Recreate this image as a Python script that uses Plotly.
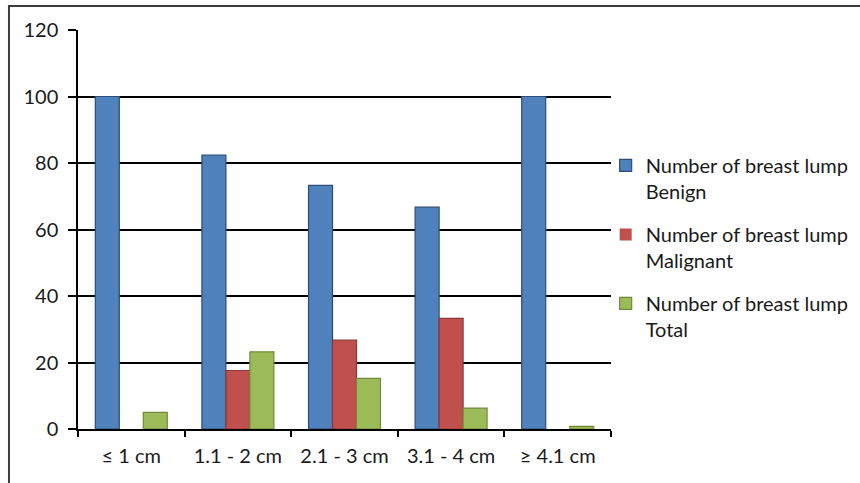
import plotly.graph_objects as go

# Lump size categories
sizes = ["≤ 1 cm", "1.1 - 2 cm", "2.1 - 3 cm", "3.1 - 4 cm", "≥ 4.1 cm"]

# Percentages per size group
benign = [100, 82.4, 73.3, 66.7, 100]
malignant = [0, 17.6, 26.7, 33.3, 0]
total = [5.0, 23.2, 15.2, 6.3, 0.8]

series_names = [
    "Number of breast lump<br>Benign",
    "Number of breast lump<br>Malignant",
    "Number of breast lump<br>Total",
]
fill_colors = ["#4F81BD", "#C0504D", "#9BBB59"]
edge_colors = ["#2C4D75", "#8C3836", "#71893F"]

fig = go.Figure()
for name, vals, fc, ec, grp in zip(series_names, [benign, malignant, total],
                                   fill_colors, edge_colors, ["b", "m", "t"]):
    # no outline on empty bars so nothing shows at the baseline
    widths = [1.2 if v > 0 else 0 for v in vals]
    fig.add_trace(go.Bar(
        x=sizes, y=vals, name=name, legendgroup=grp,
        marker=dict(color=fc, line=dict(color=ec, width=widths)),
    ))

font_family = "Lato, Open Sans, sans-serif"

fig.update_layout(
    width=860, height=483,
    margin=dict(l=78, r=249, t=30, b=54, autoexpand=False),
    paper_bgcolor="white", plot_bgcolor="white",
    barmode="group", bargap=0.325, bargroupgap=0,
    font=dict(family=font_family, size=20, color="#1a1a1a"),
    showlegend=True,
    legend=dict(
        x=0.99, xanchor="left", y=0.455, yanchor="middle",
        valign="top", tracegroupgap=14,
        font=dict(family=font_family, size=20, color="#1a1a1a"),
        itemwidth=30, bgcolor="rgba(0,0,0,0)",
    ),
    xaxis=dict(
        showgrid=False, showline=True, linecolor="#000000", linewidth=1.5,
        ticks="outside", ticklen=6, tickcolor="#000000", tickwidth=1.5,
        tickson="boundaries", fixedrange=True, ticklabelstandoff=8,
    ),
    yaxis=dict(
        range=[0, 120], dtick=20, tick0=0,
        showgrid=True, gridcolor="#000000", gridwidth=1.5,
        showline=True, linecolor="#000000", linewidth=1.5,
        ticks="outside", ticklen=8, tickcolor="#000000", tickwidth=1.5,
        zeroline=False, fixedrange=True, ticklabelstandoff=6,
    ),
    shapes=[dict(
        type="rect", xref="paper", yref="paper",
        x0=-0.1295, x1=2.0, y0=-1.0, y1=1.06,
        line=dict(color="#3c3c3c", width=2), fillcolor="rgba(0,0,0,0)",
        layer="below",
    )],
)

fig.write_html("out.html")
